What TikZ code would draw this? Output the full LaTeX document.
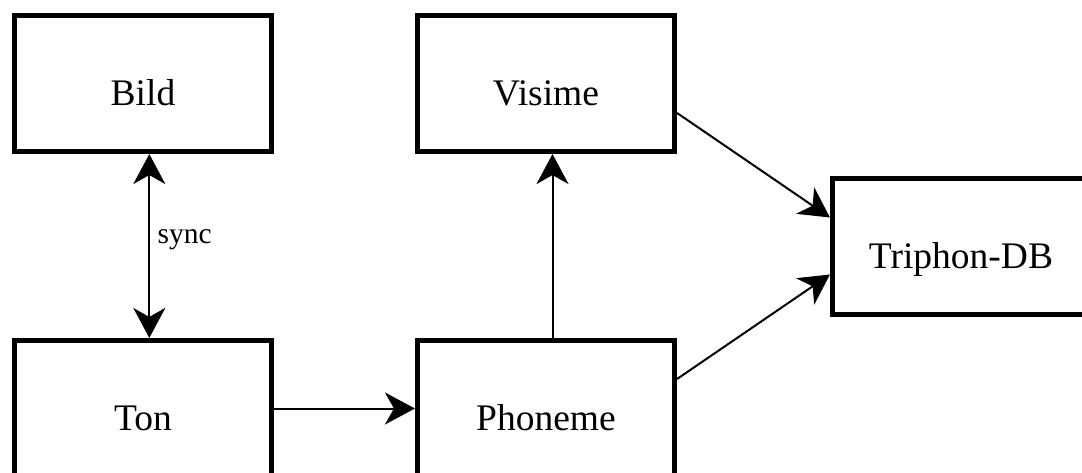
\documentclass[tikz,border=0pt]{standalone}
\usepackage{fontspec}
\setmainfont{Liberation Serif}
\usetikzlibrary{arrows.meta}

\begin{document}
\begin{tikzpicture}[x=1pt,y=1pt,
  box/.style={draw, line width=5.5pt, rectangle,
    minimum width=256.6pt, minimum height=135.6pt,
    text height=44pt, text depth=0pt,
    font=\fontsize{37.5}{45}\selectfont},
  head/.style={Stealth[length=30pt,width=32pt,inset=9pt]},
  conn/.style={line width=2pt, -{Stealth[length=30pt,width=32pt,inset=9pt]}},
  biconn/.style={line width=2pt,
    {Stealth[length=30pt,width=32pt,inset=9pt]}-{Stealth[length=30pt,width=32pt,inset=9pt]}},
  lbl/.style={font=\fontsize{29.5}{35}\selectfont, inner sep=0pt}
]
% canvas
\useasboundingbox (0,0) rectangle (1082,-473);
\fill[white] (0,0) rectangle (1082,-473);
\clip (0,0) rectangle (1082,-473);

% processing stages
\node[box] (bild)    at (143,-83.5)  {Bild};
\node[box] (visime)  at (546,-83.5)  {Visime};
\node[box] (triphon) at (961,-246.5) {Triphon-DB};
\node[box] (ton)     at (143,-408.5) {Ton};
\node[box] (phoneme) at (546,-408.5) {Phoneme};

% connections
\draw[biconn] ([xshift=6.3pt]bild.south) -- ([xshift=6.3pt]ton.north);
\node[lbl, anchor=base west] (sync) at (157.5,-243.5) {sync};
\draw[conn] (ton.east) -- (phoneme.west);
\draw[conn] ([xshift=6.5pt]phoneme.north) -- ([xshift=6.5pt]visime.south);
\draw[conn] ([yshift=-29.5pt]visime.east) -- ([yshift=29pt]triphon.west);
\draw[conn] ([yshift=29.5pt]phoneme.east) -- ([yshift=-28pt]triphon.west);
\end{tikzpicture}
\end{document}
